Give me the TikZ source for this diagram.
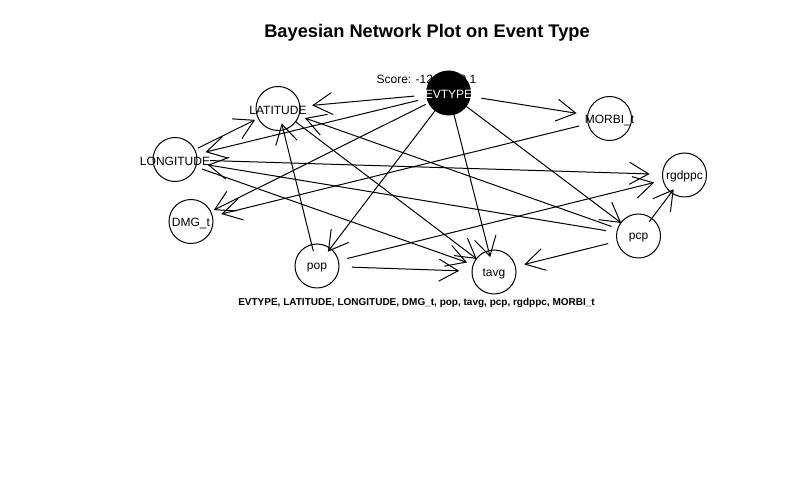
\documentclass[tikz,border=0pt]{standalone}
\usepackage{fontspec}
\setmainfont{Liberation Sans}
\usetikzlibrary{shapes.geometric,arrows.meta}
\begin{document}
\begin{tikzpicture}[x=0.75pt,y=-0.75pt,
  anchorell/.style={ellipse,minimum width=52.5pt,minimum height=22.5pt,inner sep=0pt,outer sep=0pt},
  bnnode/.style={circle,draw=black,line width=0.75pt,minimum size=33pt,inner sep=0pt},
  lbl/.style={inner sep=0pt,yshift=-1.2pt,font=\fontsize{9pt}{10pt}\selectfont},
  arc/.style={line width=0.75pt,-{Straight Barb[length=14.3pt,width=16.5pt]}}
]
\useasboundingbox (0,0) rectangle (808,484);
\node[font=\bfseries\fontsize{13.7pt}{16pt}\selectfont] (title) at (427,33) {Bayesian Network Plot on Event Type};
\node[lbl] (score) at (426.5,78) {Score: -1267240.1};
% anchor ellipses for connectors
\node[anchorell] (EVe)  at (448.5,93) {};
\node[anchorell] (LATe) at (278,108.5) {};
\node[anchorell] (LONe) at (175,159.5) {};
\node[anchorell] (MORe) at (609.5,118.5) {};
\node[anchorell] (RGDe) at (684.5,175) {};
\node[anchorell] (PCPe) at (638.5,236) {};
\node[anchorell] (TAVe) at (494,272) {};
\node[anchorell] (POPe) at (317,266) {};
\node[anchorell] (DMGe) at (191,221.5) {};
% circles
\node[bnnode,fill=black] (EV) at (EVe) {};
\node[lbl,text=white] (EVl) at (EV) {EVTYPE};
\node[bnnode] (LAT) at (LATe) {};
\node[lbl] (LATl) at (LAT) {LATITUDE};
\node[bnnode] (LON) at (LONe) {};
\node[lbl] (LONl) at (LON) {LONGITUDE};
\node[bnnode] (MOR) at (MORe) {};
\node[lbl] (MORl) at (MOR) {MORBI\_t};
\node[bnnode] (RGD) at (RGDe) {};
\node[lbl] (RGDl) at (RGD) {rgdppc};
\node[bnnode] (PCP) at (PCPe) {};
\node[lbl] (PCPl) at (PCP) {pcp};
\node[bnnode] (TAV) at (TAVe) {};
\node[lbl] (TAVl) at (TAV) {tavg};
\node[bnnode] (POP) at (POPe) {};
\node[lbl] (POPl) at (POP) {pop};
\node[bnnode] (DMG) at (DMGe) {};
\node[lbl] (DMGl) at (DMG) {DMG\_t};
% arcs
\draw[arc] (EVe) -- (LATe);
\draw[arc] (EVe) -- (LONe);
\draw[arc] (EVe) -- (MORe);
\draw[arc] (EVe) -- (POPe);
\draw[arc] (EVe) -- (TAVe);
\draw[arc] (EVe) -- (PCPe);
\draw[arc] (EVe) -- (DMGe);
\draw[arc] (LONe) -- (LATe);
\draw[arc] (POPe) -- (LATe);
\draw[arc] (PCPe) -- (LATe);
\draw[arc] (LATe) -- (TAVe);
\draw[arc] (LONe) -- (RGDe);
\draw[arc] (LONe) -- (TAVe);
\draw[arc] (PCPe) -- (LONe);
\draw[arc] (POPe) -- (TAVe);
\draw[arc] (POPe) -- (RGDe);
\draw[arc] (PCPe) -- (TAVe);
\draw[arc] (PCPe) -- (RGDe);
\draw[arc] (MORe) -- (DMGe);
\node[font=\bfseries\fontsize{7.5pt}{9pt}\selectfont] (sub) at (416.5,303) {EVTYPE, LATITUDE, LONGITUDE, DMG\_t, pop, tavg, pcp, rgdppc, MORBI\_t};
\end{tikzpicture}
\end{document}
